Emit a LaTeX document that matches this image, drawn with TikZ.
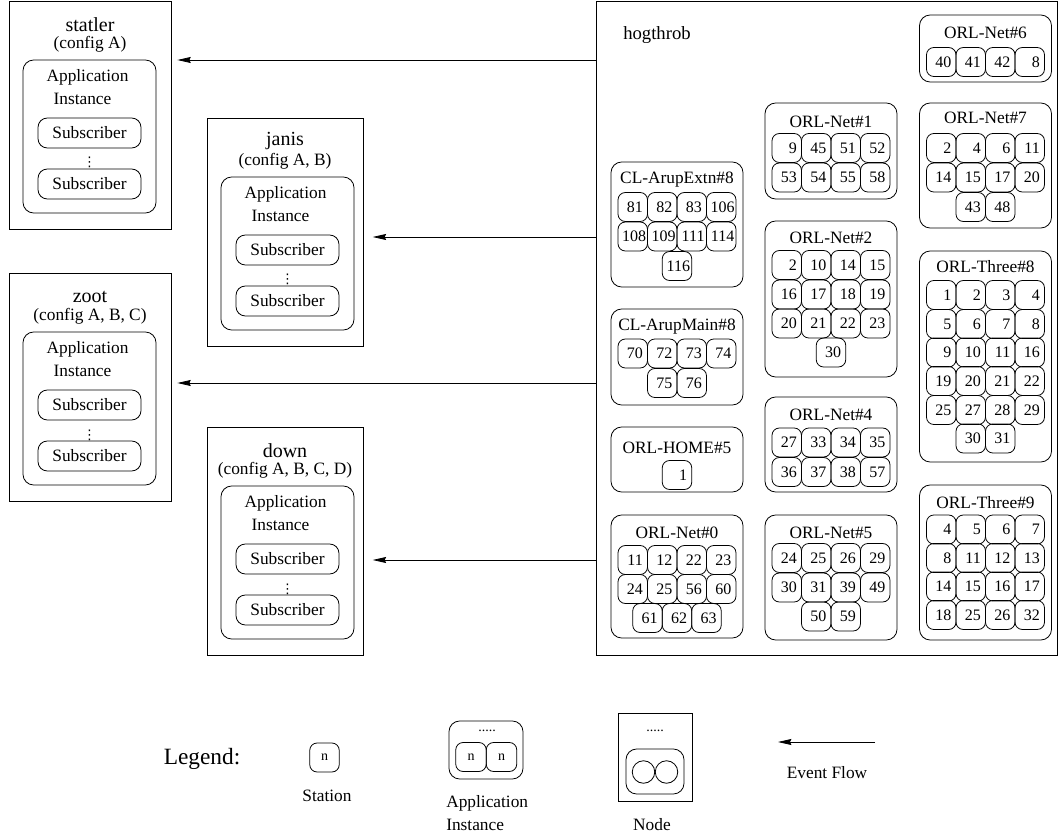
\documentclass[tikz,border=0pt]{standalone}
\usepackage{fontspec}
\setmainfont{Liberation Serif}
\newfontfamily\symf{DejaVu Sans}
\usetikzlibrary{arrows.meta}
\newcommand\px{0.75pt}
\newcommand\fT{\fontsize{15pt}{17pt}\selectfont}
\newcommand\fH{\fontsize{14pt}{16pt}\selectfont}
\newcommand\fB{\fontsize{13pt}{15pt}\selectfont}
\newcommand\fN{\fontsize{12pt}{14pt}\selectfont}
\newcommand\fL{\fontsize{17.5pt}{20pt}\selectfont}
\newcommand\fS{\fontsize{10.5pt}{12pt}\selectfont}
\tikzset{
  base/.style={line width=0.6pt},
  sq/.style 2 args={draw, base, minimum width=#1*\px, minimum height=#2*\px, inner sep=0pt},
  rr/.style 2 args={sq={#1}{#2}, rounded corners=8pt},
  subbox/.style={draw, base, minimum width=103*\px, minimum height=30*\px, inner sep=0pt, rounded corners=7pt, font=\fB},
  clubox/.style={draw, base, minimum width=132*\px, inner sep=0pt, rounded corners=8pt},
  stn/.style={draw, base, minimum width=29.5*\px, minimum height=29*\px, inner sep=0pt, rounded corners=5.5pt, font=\fN},
  txt/.style={inner sep=0pt, font=\fB},
  vdotsty/.style={inner sep=0pt, anchor=base, font=\symf\fontsize{10pt}{11pt}\selectfont},
  flow/.style={base, -{Stealth[length=10pt,width=4.5pt,inset=1pt]}},
}
\newcommand\Host[6]{%
  \pgfmathsetmacro\hx{#2+#4/2}%
  \pgfmathsetmacro\ax{#2+80.5}%
  \node[sq={#4}{228}] (#1) at (\hx,{#3+114}) {};
  \node[txt,font=\fT] (#1-name) at (\hx,{#3+23.5}) {#5};
  \node[txt] (#1-cfg) at (\hx,{#3+43}) {#6};
  \node[rr={133}{153}] (#1-app) at (\ax,{#3+135.5}) {};
  \node[txt] (#1-l1) at ({\ax-2},{#3+76.5}) {Application};
  \node[txt] (#1-l2) at ({\ax-7},{#3+98}) {Instance};
  \node[subbox] (#1-s1) at (\ax,{#3+132}) {Subscriber};
  \node[vdotsty] (#1-dots) at (\ax,{#3+166}) {⋮};
  \node[subbox] (#1-s2) at (\ax,{#3+183}) {Subscriber};
}
\newcommand\Clu[6]{%
  \node[clubox, minimum height={(#4-#3)*\px}] (#1) at (#2,{(#3+#4)/2}) {};
  \node[txt] (#1-t) at (#2,#5) {#6};
}
\newcommand\Row[4]{%
  \foreach \v [count=\n] in {#4} {\xdef\rowN{\n}}%
  \foreach \v [count=\n] in {#4} {%
    \pgfmathsetmacro\xx{#2+(\n-(\rowN+1)/2)*29.5}%
    \node[stn] (#1-\n) at (\xx,#3) {\ifnum\v>99\relax\hspace*{2pt}\v\else\makebox[15pt][r]{\v}\fi};%
  }%
}
\begin{document}
\begin{tikzpicture}[x=0.75pt,y=-0.75pt]
\useasboundingbox (0,0) rectangle (1061,838);
\fill[white] (0,0) rectangle (1061,838);

% hosts
\Host{statler}{9}{1}{162}{statler}{(config A)}
\Host{janis}{207}{118}{156}{janis}{(config A, B)}
\Host{zoot}{9}{273}{162}{zoot}{(config A, B, C)}
\Host{down}{207}{427}{156}{down}{(config A, B, C, D)}

% hogthrob
\node[sq={461}{654}] (hog) at (826.5,328) {};
\node[txt,font=\fH] (hog-t) at (657,35) {hogthrob};

% column A
\Clu{ext}{677}{162}{287}{180}{CL-ArupExtn\#8}
\Row{ext1}{677}{207}{81,82,83,106}
\Row{ext2}{677}{236.5}{108,109,111,114}
\Row{ext3}{677}{266}{116}
\Clu{main}{677}{309}{405}{327}{CL-ArupMain\#8}
\Row{main1}{677}{353.5}{70,72,73,74}
\Row{main2}{677}{383}{75,76}
\Clu{home}{677}{427}{492}{448}{ORL-HOME\#5}
\Row{home1}{677}{475}{1}
\Clu{net0}{677}{515}{638}{533}{ORL-Net\#0}
\Row{net0a}{677}{560}{11,12,22,23}
\Row{net0b}{677}{589}{24,25,56,60}
\Row{net0c}{677}{618}{61,62,63}

% column B
\Clu{net1}{831}{103}{199}{122}{ORL-Net\#1}
\Row{net1a}{831}{148}{9,45,51,52}
\Row{net1b}{831}{177.5}{53,54,55,58}
\Clu{net2}{831}{221}{377}{238}{ORL-Net\#2}
\Row{net2a}{831}{265}{2,10,14,15}
\Row{net2b}{831}{294.5}{16,17,18,19}
\Row{net2c}{831}{323.5}{20,21,22,23}
\Row{net2d}{831}{352.5}{30}
\Clu{net4}{831}{397}{492}{415}{ORL-Net\#4}
\Row{net4a}{831}{442.5}{27,33,34,35}
\Row{net4b}{831}{472}{36,37,38,57}
\Clu{net5}{831}{515}{640}{533}{ORL-Net\#5}
\Row{net5a}{831}{558}{24,25,26,29}
\Row{net5b}{831}{587.5}{30,31,39,49}
\Row{net5c}{831}{616.5}{50,59}

% column C
\Clu{net6}{985.5}{15}{82}{33}{ORL-Net\#6}
\Row{net6a}{985.5}{62}{40,41,42,8}
\Clu{net7}{985.5}{103}{228}{118}{ORL-Net\#7}
\Row{net7a}{985.5}{148}{2,4,6,11}
\Row{net7b}{985.5}{177.5}{14,15,17,20}
\Row{net7c}{985.5}{207}{43,48}
\Clu{th8}{985.5}{251}{462}{267}{ORL-Three\#8}
\Row{th8a}{985.5}{295}{1,2,3,4}
\Row{th8b}{985.5}{324}{5,6,7,8}
\Row{th8c}{985.5}{352.5}{9,10,11,16}
\Row{th8d}{985.5}{381}{19,20,21,22}
\Row{th8e}{985.5}{410}{25,27,28,29}
\Row{th8f}{985.5}{438.5}{30,31}
\Clu{th9}{985.5}{485}{640}{503}{ORL-Three\#9}
\Row{th9a}{985.5}{529.5}{4,5,6,7}
\Row{th9b}{985.5}{558}{8,11,12,13}
\Row{th9c}{985.5}{586.5}{14,15,16,17}
\Row{th9d}{985.5}{615}{18,25,26,32}

% event flow arrows
\coordinate (y1) at (0,60);
\coordinate (y2) at (0,237);
\coordinate (y3) at (0,383);
\coordinate (y4) at (0,560);
\draw[flow, shorten >=4.5pt] (hog.west |- y1) -- (statler.east |- y1);
\draw[flow, shorten >=7pt] (hog.west |- y2) -- (janis.east |- y2);
\draw[flow, shorten >=4.5pt] (hog.west |- y3) -- (zoot.east |- y3);
\draw[flow, shorten >=7pt] (hog.west |- y4) -- (down.east |- y4);

% legend
\node[txt,font=\fL] (leg) at (202,759) {Legend:};
\node[stn,font=\fS] (lst) at (324.5,757.5) {n};
\node[txt] (lst-l) at (327,796) {Station};

\node[rr={74}{58}] (lapp) at (486,750) {};
\node[txt,font=\fS] (lapp-d) at (487,731) {.....};
\node[stn,font=\fS,minimum width=30.5*\px] (lapp-a) at (471,757) {n};
\node[stn,font=\fS,minimum width=30.5*\px] (lapp-b) at (501.5,757) {n};
\node[txt,anchor=west] (lapp-l1) at (446,803) {Application};
\node[txt,anchor=west] (lapp-l2) at (446,825) {Instance};

\node[sq={74}{88}] (lnode) at (655,757) {};
\node[txt,font=\fS] (lnode-d) at (655,731) {.....};
\node[rr={58}{45}] (lnode-app) at (655,771.5) {};
\node[draw,base,circle,minimum size=22.5*\px,inner sep=0pt] (lnode-c1) at (643.5,772) {};
\node[draw,base,circle,minimum size=22.5*\px,inner sep=0pt] (lnode-c2) at (666.5,772) {};
\node[txt] (lnode-l) at (652,825) {Node};

\coordinate (ef1) at (875,742);
\coordinate (ef2) at (778,742);
\draw[flow] (ef1) -- (ef2);
\node[txt] (ef-l) at (827,773) {Event Flow};
\end{tikzpicture}
\end{document}
